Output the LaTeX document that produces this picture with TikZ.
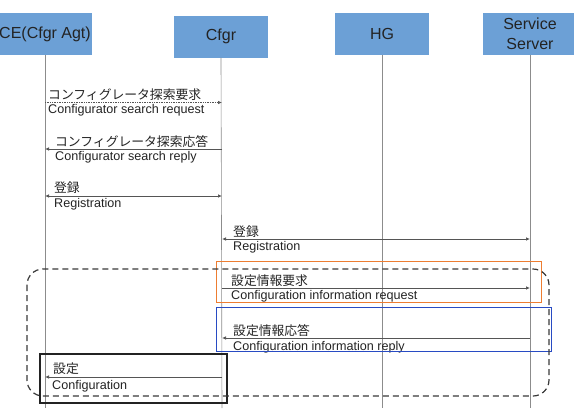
\documentclass[tikz,border=0pt]{standalone}
\usepackage{fontspec}
\setmainfont{Liberation Sans}
\newfontfamily\jpfont{Noto Sans CJK JP}
\usetikzlibrary{arrows.meta,positioning,calc}
\definecolor{hdrblue}  {RGB}{108,160,214}
\definecolor{msggray}  {RGB}{ 85, 85, 85}
\definecolor{lifegray} {RGB}{140,140,140}
\definecolor{boxorange}{RGB}{237,125, 49}
\definecolor{boxblue}  {RGB}{ 40, 75,195}
\definecolor{txtdark}  {RGB}{ 35, 35, 35}

\begin{document}
\begin{tikzpicture}[
  x=1pt,y=-1pt,
  hdr/.style={fill=hdrblue,minimum width=94pt,minimum height=42pt,align=center,
              inner sep=0pt,text=txtdark,font=\fontsize{16}{20}\selectfont},
  life/.style={lifegray,line width=0.6pt},
  msg/.style={msggray,line width=0.7pt,-{Latex[length=4pt,width=3.5pt]}},
  both/.style={msggray,line width=0.7pt,
               {Latex[length=4pt,width=3.5pt]}-{Latex[length=4pt,width=3.5pt]}},
  jp/.style={anchor=west,inner sep=0pt,text=txtdark,font=\jpfont\fontsize{12.8}{14}\selectfont},
  en/.style={anchor=west,inner sep=0pt,text=txtdark,font=\fontsize{12.6}{14}\selectfont},
]
\useasboundingbox (0,0) rectangle (574,408);

%% ── Lifeline headers ────────────────────────────────────────────
\node[hdr] (ce)   at (45,34)    {CE(Cfgr Agt)};
\node[hdr] (cfgr) at (221,36.5) {Cfgr};
\node[hdr] (hg)   at (382,34)   {HG};
\node[hdr] (srv)  at (530,34)   {Service\\Server};

%% ── Lifelines ───────────────────────────────────────────────────
\coordinate (ceEnd)   at (45,408);
\coordinate (cfgrEnd) at (222,408);
\coordinate (hgEnd)   at (382,408);
\coordinate (srvEnd)  at (530,408);
\draw[life] (ce.south)   -- (ceEnd);
\draw[life] (cfgr.south) -- (cfgrEnd);
\draw[life] (hg.south)   -- (hgEnd);
\draw[life] (srv.south)  -- (srvEnd);

%% ── Configurator search ─────────────────────────────────────────
\coordinate (r1) at (0,102.5);
\draw[msg,densely dotted] (ce |- r1) -- (cfgrEnd |- r1);
\node[jp] (r1jp) at (48,95)    {コンフィグレータ探索要求};
\node[en] (r1en) at (48,110.5) {Configurator search request};

\coordinate (r2) at (0,149);
\draw[msg] (cfgrEnd |- r2) -- (ce |- r2);
\node[jp] (r2jp) at (55,142) {コンフィグレータ探索応答};
\node[en] (r2en) at (55,157) {Configurator search reply};

%% ── Registration ────────────────────────────────────────────────
\coordinate (r3) at (0,196);
\draw[both] (ce |- r3) -- (cfgrEnd |- r3);
\node[jp] (r3jp) at (54,188) {登録};
\node[en] (r3en) at (54,204) {Registration};

\coordinate (r4) at (0,239);
\draw[both] (cfgrEnd |- r4) -- (srv |- r4);
\node[jp] (r4jp) at (233,232) {登録};
\node[en] (r4en) at (233,247) {Registration};

%% ── Configuration information ───────────────────────────────────
\coordinate (r5) at (0,288);
\draw[msg] (cfgrEnd |- r5) -- (srv |- r5);
\node[jp] (r5jp) at (231,281) {設定情報要求};
\node[en] (r5en) at (231,296) {Configuration information request};

\coordinate (r6) at (0,338);
\draw[msg] (srv |- r6) -- (cfgrEnd |- r6);
\node[jp] (r6jp) at (233,330.5) {設定情報応答};
\node[en] (r6en) at (233,347) {Configuration information reply};

\coordinate (r7) at (0,377);
\draw[msg] (cfgrEnd |- r7) -- (ce |- r7);
\node[jp] (r7jp) at (53,368.5) {設定};
\node[en] (r7en) at (52,386.5) {Configuration};

%% Highlight frames
\draw[boxorange,line width=1pt] (216,261) rectangle (541,302);
\draw[boxblue,line width=1pt] (216,307) rectangle (551,351);
\draw[txtdark,line width=1.2pt] (40,354) rectangle (227,403);
\draw[txtdark!90,line width=1.2pt,dash pattern=on 6pt off 4pt,rounded corners=16pt]
  (27,269) rectangle (549,396);

\end{tikzpicture}
\end{document}
